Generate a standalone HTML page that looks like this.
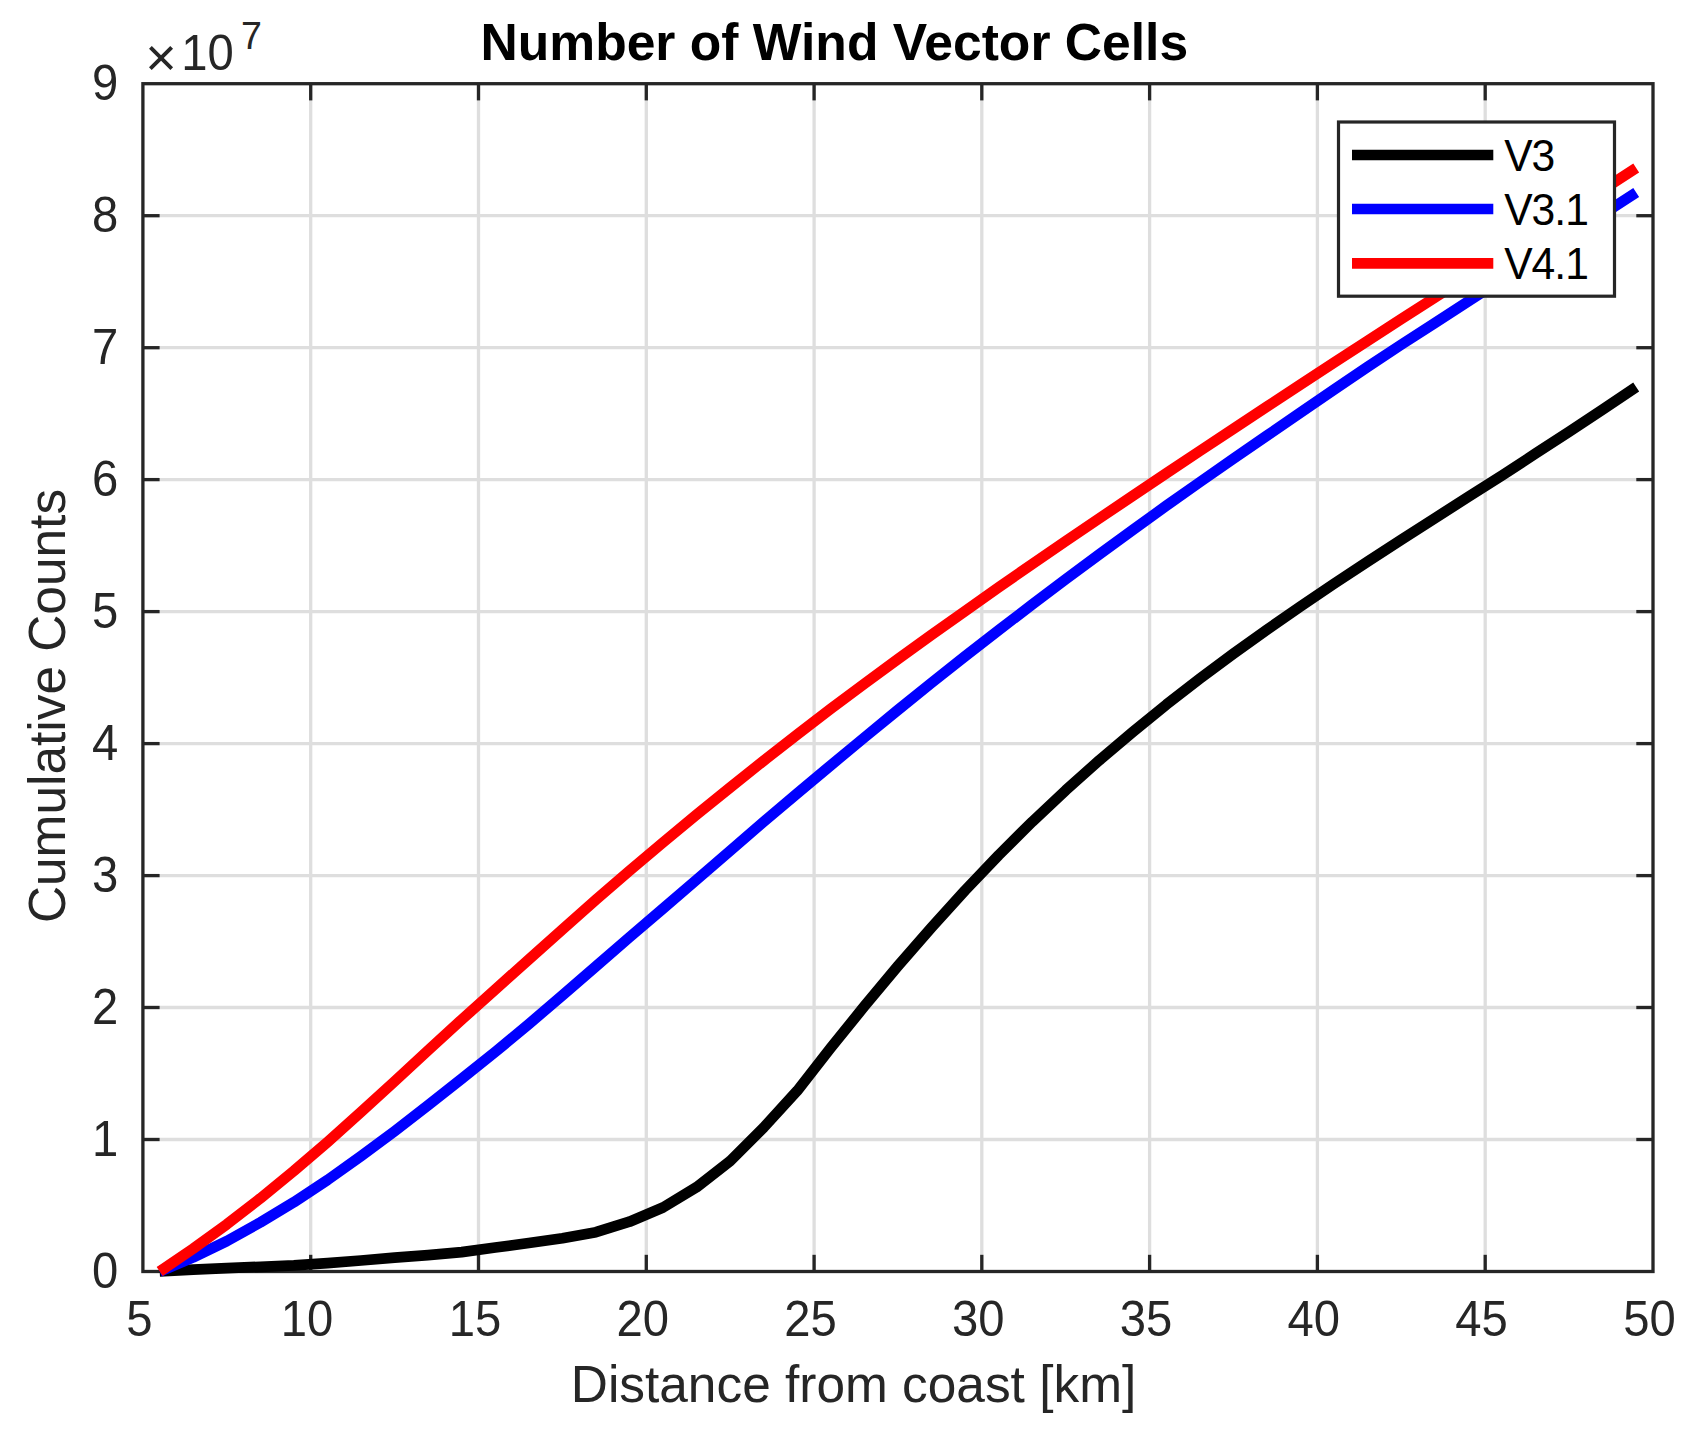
<!DOCTYPE html>
<html lang="en"><head><meta charset="utf-8"><title>Number of Wind Vector Cells</title>
<style>
html,body{margin:0;padding:0;background:#fff;}
body{width:1699px;height:1433px;overflow:hidden;}
svg{display:block;}
text{font-family:"Liberation Sans",sans-serif;}
.tk{font-size:47.2px;fill:#262626;}
.lb{font-size:51.4px;fill:#262626;}
.ti{font-size:51.6px;font-weight:bold;fill:#000;}
.lg{font-size:42.6px;fill:#000;}
</style></head><body>
<svg width="1699" height="1433" viewBox="0 0 1699 1433">
<rect width="1699" height="1433" fill="#fff"/>

<g stroke="#dedede" stroke-width="3.3" fill="none">
<line x1="310.7" y1="83.7" x2="310.7" y2="1271.5"/>
<line x1="478.5" y1="83.7" x2="478.5" y2="1271.5"/>
<line x1="646.3" y1="83.7" x2="646.3" y2="1271.5"/>
<line x1="814.1" y1="83.7" x2="814.1" y2="1271.5"/>
<line x1="981.8" y1="83.7" x2="981.8" y2="1271.5"/>
<line x1="1149.6" y1="83.7" x2="1149.6" y2="1271.5"/>
<line x1="1317.4" y1="83.7" x2="1317.4" y2="1271.5"/>
<line x1="1485.2" y1="83.7" x2="1485.2" y2="1271.5"/>
<line x1="142.9" y1="1139.5" x2="1653.0" y2="1139.5"/>
<line x1="142.9" y1="1007.5" x2="1653.0" y2="1007.5"/>
<line x1="142.9" y1="875.6" x2="1653.0" y2="875.6"/>
<line x1="142.9" y1="743.6" x2="1653.0" y2="743.6"/>
<line x1="142.9" y1="611.6" x2="1653.0" y2="611.6"/>
<line x1="142.9" y1="479.6" x2="1653.0" y2="479.6"/>
<line x1="142.9" y1="347.7" x2="1653.0" y2="347.7"/>
<line x1="142.9" y1="215.7" x2="1653.0" y2="215.7"/>
</g>
<g stroke="#262626" stroke-width="3.3" fill="none">
<rect x="142.9" y="83.7" width="1510.1" height="1187.8"/>
<line x1="310.7" y1="1271.5" x2="310.7" y2="1254.8"/>
<line x1="310.7" y1="83.7" x2="310.7" y2="100.4"/>
<line x1="478.5" y1="1271.5" x2="478.5" y2="1254.8"/>
<line x1="478.5" y1="83.7" x2="478.5" y2="100.4"/>
<line x1="646.3" y1="1271.5" x2="646.3" y2="1254.8"/>
<line x1="646.3" y1="83.7" x2="646.3" y2="100.4"/>
<line x1="814.1" y1="1271.5" x2="814.1" y2="1254.8"/>
<line x1="814.1" y1="83.7" x2="814.1" y2="100.4"/>
<line x1="981.8" y1="1271.5" x2="981.8" y2="1254.8"/>
<line x1="981.8" y1="83.7" x2="981.8" y2="100.4"/>
<line x1="1149.6" y1="1271.5" x2="1149.6" y2="1254.8"/>
<line x1="1149.6" y1="83.7" x2="1149.6" y2="100.4"/>
<line x1="1317.4" y1="1271.5" x2="1317.4" y2="1254.8"/>
<line x1="1317.4" y1="83.7" x2="1317.4" y2="100.4"/>
<line x1="1485.2" y1="1271.5" x2="1485.2" y2="1254.8"/>
<line x1="1485.2" y1="83.7" x2="1485.2" y2="100.4"/>
<line x1="142.9" y1="1139.5" x2="159.6" y2="1139.5"/>
<line x1="1653.0" y1="1139.5" x2="1636.3" y2="1139.5"/>
<line x1="142.9" y1="1007.5" x2="159.6" y2="1007.5"/>
<line x1="1653.0" y1="1007.5" x2="1636.3" y2="1007.5"/>
<line x1="142.9" y1="875.6" x2="159.6" y2="875.6"/>
<line x1="1653.0" y1="875.6" x2="1636.3" y2="875.6"/>
<line x1="142.9" y1="743.6" x2="159.6" y2="743.6"/>
<line x1="1653.0" y1="743.6" x2="1636.3" y2="743.6"/>
<line x1="142.9" y1="611.6" x2="159.6" y2="611.6"/>
<line x1="1653.0" y1="611.6" x2="1636.3" y2="611.6"/>
<line x1="142.9" y1="479.6" x2="159.6" y2="479.6"/>
<line x1="1653.0" y1="479.6" x2="1636.3" y2="479.6"/>
<line x1="142.9" y1="347.7" x2="159.6" y2="347.7"/>
<line x1="1653.0" y1="347.7" x2="1636.3" y2="347.7"/>
<line x1="142.9" y1="215.7" x2="159.6" y2="215.7"/>
<line x1="1653.0" y1="215.7" x2="1636.3" y2="215.7"/>
</g>
<g fill="none" stroke-width="10.7" stroke-linejoin="round" stroke-linecap="butt">
<polyline stroke="#000000" points="159.7,1271.5 193.2,1269.7 226.8,1268.1 260.4,1266.8 293.9,1265.4 327.5,1263.2 361.0,1260.5 394.6,1257.6 428.1,1255.1 461.7,1252.1 495.3,1247.5 528.8,1243.0 562.4,1238.2 595.9,1232.2 629.5,1221.7 663.0,1207.5 696.6,1187.2 730.2,1161.0 763.7,1127.5 797.3,1090.7 830.8,1047.8 864.4,1006.2 897.9,966.0 931.5,927.4 965.1,890.4 998.6,855.2 1032.2,821.8 1065.7,790.3 1099.3,760.3 1132.9,731.8 1166.4,704.6 1200.0,678.6 1233.5,653.6 1267.1,629.6 1300.6,606.3 1334.2,583.6 1367.8,561.5 1401.3,539.7 1434.9,518.2 1468.4,496.8 1502.0,475.4 1535.5,453.6 1569.1,431.7 1602.7,409.5 1636.2,387.0"/>
<polyline stroke="#0000ff" points="159.7,1271.5 193.2,1257.4 226.8,1241.1 260.4,1222.4 293.9,1202.2 327.5,1180.0 361.0,1156.2 394.6,1131.2 428.1,1105.3 461.7,1078.8 495.3,1051.9 528.8,1024.1 562.4,995.4 595.9,966.4 629.5,937.3 663.0,908.6 696.6,879.7 730.2,850.7 763.7,821.8 797.3,793.3 830.8,765.3 864.4,737.5 897.9,710.0 931.5,682.9 965.1,656.3 998.6,630.2 1032.2,604.5 1065.7,579.3 1099.3,554.4 1132.9,529.9 1166.4,505.7 1200.0,482.0 1233.5,458.6 1267.1,435.5 1300.6,412.5 1334.2,389.5 1367.8,366.8 1401.3,344.6 1434.9,322.9 1468.4,301.3 1502.0,279.6 1535.5,257.8 1569.1,236.1 1602.7,214.3 1636.2,192.6"/>
<polyline stroke="#ff0000" points="159.7,1271.5 193.2,1248.6 226.8,1224.3 260.4,1198.3 293.9,1170.9 327.5,1142.1 361.0,1112.1 394.6,1081.4 428.1,1050.4 461.7,1019.6 495.3,989.5 528.8,959.4 562.4,929.4 595.9,899.8 629.5,870.8 663.0,842.5 696.6,814.7 730.2,787.5 763.7,760.7 797.3,734.5 830.8,708.8 864.4,683.7 897.9,659.1 931.5,634.9 965.1,611.1 998.6,587.4 1032.2,564.1 1065.7,541.2 1099.3,518.4 1132.9,495.8 1166.4,473.3 1200.0,450.9 1233.5,428.7 1267.1,406.5 1300.6,384.5 1334.2,362.6 1367.8,340.8 1401.3,319.1 1434.9,297.6 1468.4,276.1 1502.0,254.5 1535.5,233.0 1569.1,211.4 1602.7,189.8 1636.2,168.0"/>
</g>
<rect x="1338.5" y="122" width="276" height="174.2" fill="#fff" stroke="#262626" stroke-width="3.2"/>
<line x1="1352" y1="155.0" x2="1493.3" y2="155.0" stroke="#000000" stroke-width="10.7"/>
<line x1="1352" y1="209.0" x2="1493.3" y2="209.0" stroke="#0000ff" stroke-width="10.7"/>
<line x1="1352" y1="263.3" x2="1493.3" y2="263.3" stroke="#ff0000" stroke-width="10.7"/>
<text class="lg" text-anchor="start" transform="translate(1504.2 170.9) scale(1 1.04)" style="letter-spacing:-1px">V3</text>
<text class="lg" text-anchor="start" transform="translate(1504.2 225.0) scale(1 1.04)" style="letter-spacing:-1px">V3.1</text>
<text class="lg" text-anchor="start" transform="translate(1504.2 278.7) scale(1 1.04)" style="letter-spacing:-1px">V4.1</text>
<text class="tk" text-anchor="middle" transform="translate(139.3 1335.9) scale(1 1.04)">5</text>
<text class="tk" text-anchor="middle" transform="translate(307.1 1335.9) scale(1 1.04)">10</text>
<text class="tk" text-anchor="middle" transform="translate(474.9 1335.9) scale(1 1.04)">15</text>
<text class="tk" text-anchor="middle" transform="translate(642.7 1335.9) scale(1 1.04)">20</text>
<text class="tk" text-anchor="middle" transform="translate(810.5 1335.9) scale(1 1.04)">25</text>
<text class="tk" text-anchor="middle" transform="translate(978.2 1335.9) scale(1 1.04)">30</text>
<text class="tk" text-anchor="middle" transform="translate(1146.0 1335.9) scale(1 1.04)">35</text>
<text class="tk" text-anchor="middle" transform="translate(1313.8 1335.9) scale(1 1.04)">40</text>
<text class="tk" text-anchor="middle" transform="translate(1481.6 1335.9) scale(1 1.04)">45</text>
<text class="tk" text-anchor="middle" transform="translate(1649.4 1335.9) scale(1 1.04)">50</text>
<text class="tk" text-anchor="end" transform="translate(118.3 1287.7) scale(1 1.04)">0</text>
<text class="tk" text-anchor="end" transform="translate(118.3 1155.7) scale(1 1.04)">1</text>
<text class="tk" text-anchor="end" transform="translate(118.3 1023.7) scale(1 1.04)">2</text>
<text class="tk" text-anchor="end" transform="translate(118.3 891.8) scale(1 1.04)">3</text>
<text class="tk" text-anchor="end" transform="translate(118.3 759.8) scale(1 1.04)">4</text>
<text class="tk" text-anchor="end" transform="translate(118.3 627.8) scale(1 1.04)">5</text>
<text class="tk" text-anchor="end" transform="translate(118.3 495.8) scale(1 1.04)">6</text>
<text class="tk" text-anchor="end" transform="translate(118.3 363.9) scale(1 1.04)">7</text>
<text class="tk" text-anchor="end" transform="translate(118.3 231.9) scale(1 1.04)">8</text>
<text class="tk" text-anchor="end" transform="translate(118.3 99.9) scale(1 1.04)">9</text>
<text class="tk" text-anchor="start" transform="translate(145.2 75.6) scale(1 1.0)" style="font-size:54px">×</text>
<text class="tk" text-anchor="start" transform="translate(181.3 69.9) scale(1 1.04)">10</text>
<text class="tk" text-anchor="start" transform="translate(241.0 48.8) scale(1 1.04)" style="font-size:37.6px">7</text>
<text class="ti" text-anchor="middle" x="834.3" y="60">Number of Wind Vector Cells</text>
<text class="lb" text-anchor="middle" x="853.5" y="1402.4">Distance from coast [km]</text>
<text class="lb" text-anchor="middle" transform="translate(65.0 706) rotate(-90)">Cumulative Counts</text>
</svg></body></html>
